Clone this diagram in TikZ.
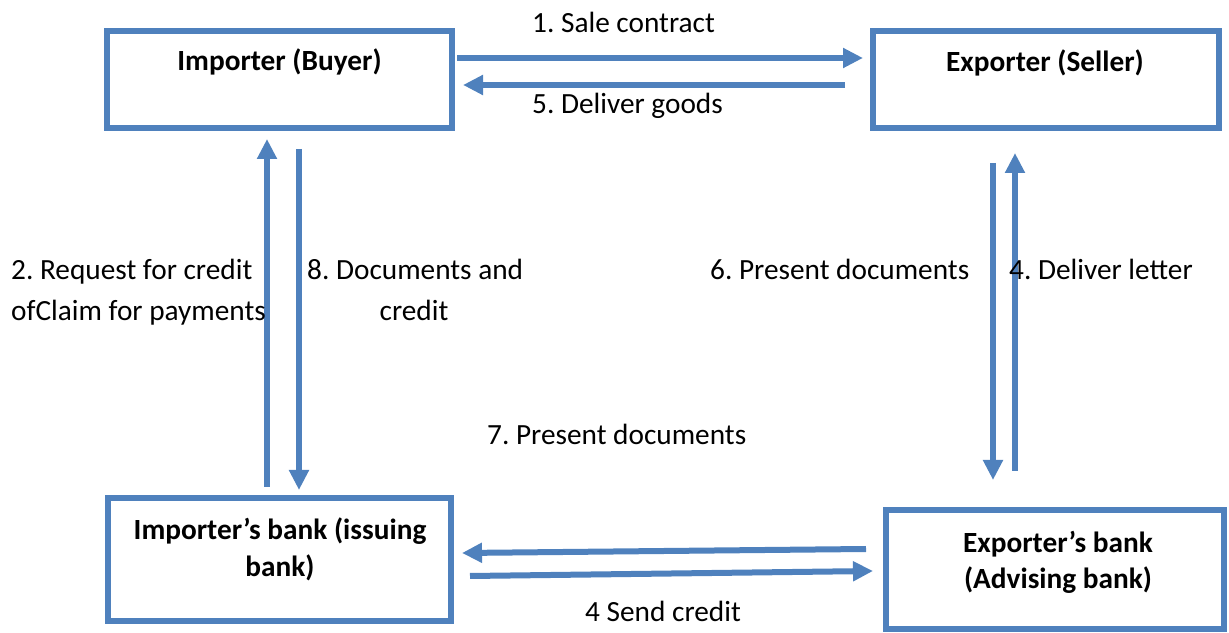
\documentclass[tikz,border=0pt]{standalone}
\usepackage{fontspec}
\setmainfont{Carlito}
\usetikzlibrary{arrows.meta,calc}
\definecolor{obl}{HTML}{4F81BD}
\frenchspacing
\begin{document}
\begin{tikzpicture}[x=1pt,y=1pt,
  box/.style={draw=obl,line width=6.5pt,fill=white,rectangle,inner sep=0pt},
  arr/.style={draw=obl,line width=6pt,-{Triangle[width=19pt,length=20pt]}},
  lbl/.style={font=\fontsize{29.3}{36}\selectfont,inner sep=0pt,anchor=base west},
  ttl/.style={font=\fontsize{29.3}{36}\selectfont\bfseries,inner sep=0pt,anchor=base}]
\useasboundingbox (0,0) rectangle (1229,632);
% boxes
\node[box,minimum width=345pt,minimum height=97pt] (imp) at (279.5,552.5) {};
\node[box,minimum width=346pt,minimum height=97pt] (exp) at (1046,552.5) {};
\node[box,minimum width=343pt,minimum height=123pt] (ib) at (279.5,72.5) {};
\node[box,minimum width=338pt,minimum height=119pt] (eb) at (1055,62.5) {};
% box texts
\node[ttl] (impt) at ($(imp.center)+(0,8.5)$) {Importer (Buyer)};
\node[ttl] (expt) at ($(exp.center)+(-1,7.5)$) {Exporter (Seller)};
\node[ttl] (ibt1) at ($(ib.center)+(0.5,19.5)$) {Importer’s bank (issuing};
\node[ttl] (ibt2) at ($(ib.center)+(0.5,-16.5)$) {bank)};
\node[ttl] (ebt1) at ($(eb.center)+(3,16.5)$) {Exporter’s bank};
\node[ttl] (ebt2) at ($(eb.center)+(3,-19.5)$) {(Advising bank)};
% connectors
\draw[arr] ($(imp.east)+(1.75,21.5)$) -- ($(exp.west)+(-6.75,21.5)$);
\draw[arr] ($(exp.west)+(-24.75,-5.5)$) -- ($(imp.east)+(7.75,-5.5)$);
\draw[arr] ($(ib.north)+(-12.5,7.75)$) -- ($(imp.south)+(-12.5,-7.75)$);
\draw[arr] ($(imp.south)+(19.5,-17.75)$) -- ($(ib.north)+(19.5,4.75)$);
\draw[arr] ($(exp.south)+(-53,-31.75)$) -- ($(eb.north)+(-62,26.75)$);
\draw[arr] ($(eb.north)+(-40,35.75)$) -- ($(exp.south)+(-31,-21.75)$);
\draw[arr] ($(eb.west)+(-16.75,20.5)$) -- ($(ib.east)+(7.75,6.5)$);
\draw[arr] ($(ib.east)+(15.75,-16.5)$) -- ($(eb.west)+(-9.75,-1.5)$);
% labels
\node[lbl] (l1) at (532,599) {1. Sale contract};
\node[lbl] (l5) at (532,518) {5. Deliver goods};
\node[lbl] (l2a) at (11,352) {2. Request for credit};
\node[lbl] (l2b) at (11,311) {ofClaim for payments};
\node[lbl] (l8a) at (307,352) {8. Documents and};
\node[lbl,anchor=base] (l8b) at (414,311) {credit};
\node[lbl] (l6) at (710,352) {6. Present documents};
\node[lbl] (l4) at (1009,352) {4. Deliver letter};
\node[lbl] (l7) at (487,187) {7. Present documents};
\node[lbl] (l4s) at (585,11) {4 Send credit};
\end{tikzpicture}
\end{document}
